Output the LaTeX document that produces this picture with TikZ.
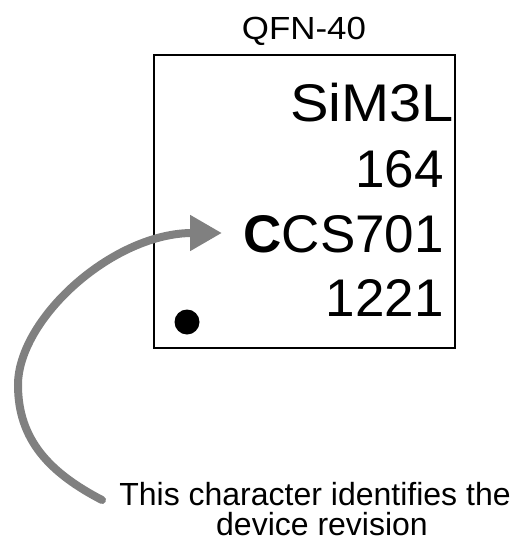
\documentclass[tikz,border=0pt]{standalone}
\usepackage{fontspec}
\setmainfont{Liberation Sans}
\usetikzlibrary{arrows.meta}
\definecolor{arrowgray}{RGB}{128,128,128}
\begin{document}
\begin{tikzpicture}[x=1pt,y=-1pt,
  chiptext/.style={inner sep=0pt, anchor=base east, font=\fontsize{53}{53}\selectfont},
  labeltext/.style={inner sep=0pt, anchor=base, font=\fontsize{32}{32}\selectfont},
  chipbox/.style={draw=black, line width=2pt},
  revarrow/.style={draw=arrowgray, line width=8pt, line cap=round, -{Triangle[length=32pt,width=34pt]}}
]
\useasboundingbox (0,0) rectangle (527,543);
\node[labeltext, xscale=1.09] (pkg) at (304,40) {QFN-40};
\draw[chipbox] (154,55) rectangle (455,348);
\node[chiptext, xscale=1.09] (l1) at (454,121) {SiM3L};
\node[chiptext] (l2) at (444,187) {164};
\node[chiptext] (l3) at (444,252) {{\bfseries C}CS701};
\node[chiptext] (l4) at (444,316) {1221};
\fill[black] (187,322) circle (12.5);
\node[labeltext] (cap1) at (315,505) {This character identifies the};
\node[labeltext] (cap2) at (322,535) {device revision};
\coordinate (tail) at (102,500);
\coordinate (tip) at (222,233);
\draw[revarrow] (tail) .. controls (50,473) and (18,440) .. (18,385)
  .. controls (18,320) and (110,235) .. (190,233) -- (tip);
\end{tikzpicture}
\end{document}
